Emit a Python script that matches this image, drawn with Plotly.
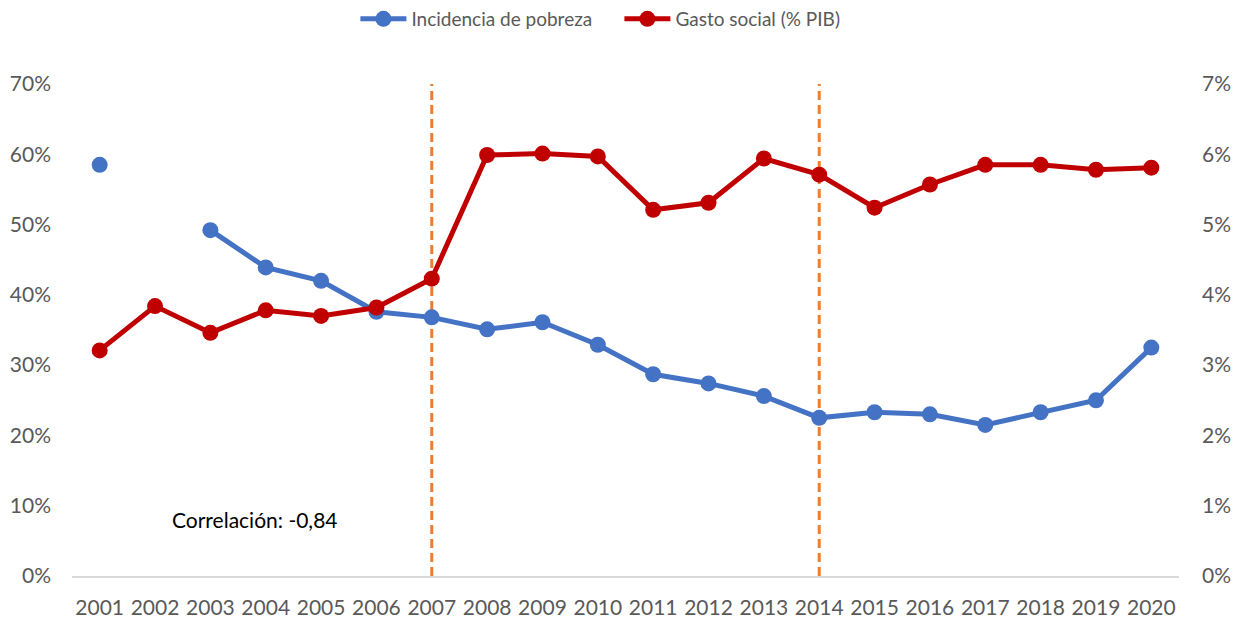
import plotly.graph_objects as go

years = list(range(2001, 2021))
pobreza = [0.585, None, 0.492, 0.439, 0.420, 0.376, 0.368, 0.351, 0.361, 0.329,
           0.287, 0.274, 0.256, 0.225, 0.233, 0.230, 0.215, 0.233, 0.250, 0.325]
gasto = [0.0321, 0.0384, 0.0346, 0.0378, 0.0370, 0.0382, 0.0423, 0.0599, 0.0601, 0.0597,
         0.0521, 0.0531, 0.0594, 0.0571, 0.0524, 0.0557, 0.0585, 0.0585, 0.0578, 0.0581]
marker_years = [2007, 2014]
corr_text = "Correlación: -0,84"

BLUE = "#4472C4"
RED = "#C00000"
ORANGE = "#ED7D31"
FONT = "Lato, 'Open Sans', sans-serif"

fig = go.Figure()
fig.add_trace(go.Scatter(x=years, y=pobreza, name="Incidencia de pobreza", mode="lines+markers",
                         line=dict(color=BLUE, width=5), marker=dict(color=BLUE, size=16),
                         connectgaps=False, yaxis="y"))
fig.add_trace(go.Scatter(x=years, y=gasto, name="Gasto social (% PIB)", mode="lines+markers",
                         line=dict(color=RED, width=5), marker=dict(color=RED, size=16),
                         yaxis="y2"))

for yr in marker_years:
    fig.add_shape(type="line", xref="x", yref="paper", x0=yr, x1=yr, y0=0, y1=1,
                  line=dict(color=ORANGE, width=3, dash="9px,5px"), layer="below")

fig.add_annotation(x=2003.8, y=0.08, xref="x", yref="y", text=corr_text, showarrow=False,
                   font=dict(size=21, color="#000000", family=FONT))

fig.update_layout(
    width=1243, height=619,
    margin=dict(l=72, r=64, t=84, b=43, autoexpand=False),
    paper_bgcolor="white", plot_bgcolor="white",
    font=dict(family=FONT, size=21, color="#595959"),
    showlegend=True,
    legend=dict(orientation="h", x=0.256, xanchor="left", y=1.0, yref="container", yanchor="top",
                font=dict(size=19, color="#595959"), itemwidth=46, traceorder="normal",
                entrywidth=203, entrywidthmode="pixels"),
    xaxis=dict(range=[2000.5, 2020.5], tickmode="array", tickvals=years,
               ticktext=[str(y) for y in years], showgrid=False, zeroline=False,
               showline=True, linecolor="#D9D9D9", linewidth=1.5, ticks="", automargin=False,
               ticklabelstandoff=12, tickfont=dict(size=21, color="#595959")),
    yaxis=dict(range=[0, 0.70], tickvals=[i / 10 for i in range(8)], tickformat=".0%",
               showgrid=False, zeroline=False, showline=False, ticks="", automargin=False,
               ticklabelstandoff=20, tickfont=dict(size=21, color="#595959")),
    yaxis2=dict(range=[0, 0.070], tickvals=[i / 100 for i in range(8)], tickformat=".0%",
                overlaying="y", side="right", showgrid=False, zeroline=False, showline=False,
                ticks="", automargin=False, ticklabelstandoff=22,
                tickfont=dict(size=21, color="#595959")),
)

fig.write_html("out.html", config={"displayModeBar": False},
               post_script="document.body.style.margin='0';")
